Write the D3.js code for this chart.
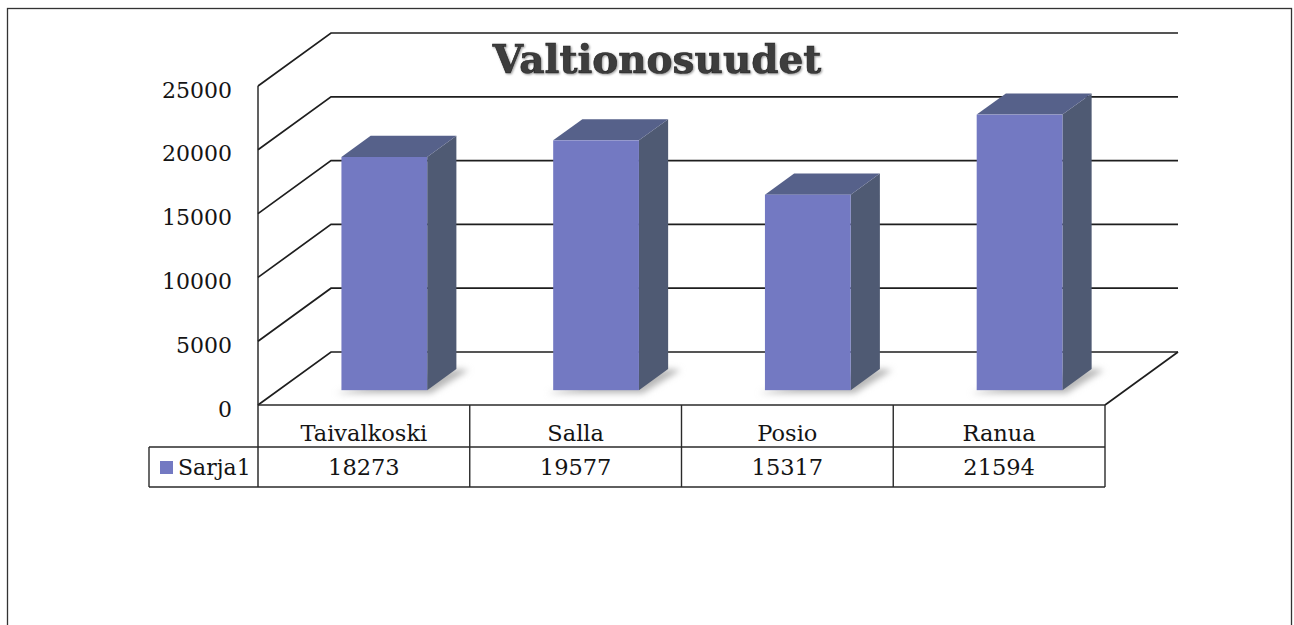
<!DOCTYPE html>
<html lang="fi">
<head>
    <meta charset="UTF-8">
    <title>Valtionosuudet</title>
    <script src="https://cdn.jsdelivr.net/npm/d3@7"></script>
    <style>
        html, body { margin: 0; padding: 0; background: #fff; }
        svg { display: block; }
        text { font-family: 'DejaVu Serif', serif; fill: #141414; }
    </style>
</head>
<body>
<script>
    // data
    const categories = ["Taivalkoski", "Salla", "Posio", "Ranua"];
    const values = [18273, 19577, 15317, 21594];
    const seriesName = "Sarja1";
    const yTicks = [0, 5000, 10000, 15000, 20000, 25000];
    const title = "Valtionosuudet";

    const W = 1294, H = 625;
    const svg = d3.select("body").append("svg").attr("width", W).attr("height", H);

    // 3d box: front plane + depth offset
    const depthX = 73, depthY = 53;
    const x = d3.scaleBand().domain(categories).range([258, 1105]).padding(0);
    const y = d3.scaleLinear().domain([0, 25000]).range([405, 86]);
    const px = (xv, d) => xv + d * depthX;
    const py = (yv, d) => yv - d * depthY;

    const defs = svg.append("defs");
    defs.append("filter").attr("id", "blur").attr("x", "-20%").attr("y", "-50%")
        .attr("width", "140%").attr("height", "200%")
        .append("feGaussianBlur").attr("stdDeviation", 3);
    const tf = defs.append("filter").attr("id", "tshadow");
    tf.append("feGaussianBlur").attr("in", "SourceAlpha").attr("stdDeviation", 1.2).attr("result", "b");
    tf.append("feOffset").attr("dx", 1).attr("dy", 1).attr("result", "o");
    tf.append("feFlood").attr("flood-color", "#999").attr("result", "c");
    tf.append("feComposite").attr("in", "c").attr("in2", "o").attr("operator", "in").attr("result", "s");
    const fm = tf.append("feMerge");
    fm.append("feMergeNode").attr("in", "s");
    fm.append("feMergeNode").attr("in", "SourceGraphic");

    // outer frame
    svg.append("rect").attr("x", 7.5).attr("y", 8.5).attr("width", 1284).attr("height", 640)
        .attr("fill", "none").attr("stroke", "#333").attr("stroke-width", 1.3);

    const gridColor = "#1e1e1e";
    const x0 = x.range()[0], x1 = x.range()[1];

    // back wall gridlines + left wall diagonals
    const grid = svg.append("g").attr("stroke", gridColor).attr("stroke-width", 1.7).attr("fill", "none");
    yTicks.forEach(t => {
        grid.append("path").attr("d", d3.line()([
            [x0, y(t)], [px(x0, 1), py(y(t), 1)], [px(x1, 1), py(y(t), 1)]
        ]));
    });
    // floor right edge
    grid.append("line").attr("x1", x1).attr("y1", y(0)).attr("x2", px(x1, 1)).attr("y2", py(y(0), 1));
    // left axis line
    grid.append("line").attr("x1", x0).attr("y1", y(25000)).attr("x2", x0).attr("y2", 487)
        .attr("stroke-width", 1.4);

    // bars
    const bw = x.bandwidth() * 0.405;
    const dFront = 0.28, dBack = 0.68;
    const bars = svg.append("g").selectAll("g").data(values).join("g");

    bars.each(function (v, i) {
        const g = d3.select(this);
        const xl = x(categories[i]) + (x.bandwidth() - bw) / 2;
        const xr = xl + bw;
        const yb = y(0), yt = y(v);
        const P = (xx, yy, d) => [px(xx, d), py(yy, d)];

        // soft floor shadow
        g.append("path")
            .attr("d", d3.line()([P(xl - 6, yb + 3, dFront), P(xr + 4, yb + 3, dFront),
                P(xr + 14, yb, dBack - 0.02), P(xr, yb, dBack)]) + "Z")
            .attr("fill", "#b8b8b8").attr("filter", "url(#blur)");
        // side
        g.append("path")
            .attr("d", d3.line()([P(xr, yb, dFront), P(xr, yb, dBack), P(xr, yt, dBack), P(xr, yt, dFront)]) + "Z")
            .attr("fill", "#4f5a73");
        // top
        g.append("path")
            .attr("d", d3.line()([P(xl, yt, dFront), P(xr, yt, dFront), P(xr, yt, dBack), P(xl, yt, dBack)]) + "Z")
            .attr("fill", "#56618a");
        // front
        g.append("rect")
            .attr("x", px(xl, dFront)).attr("y", py(yt, dFront))
            .attr("width", bw).attr("height", yb - yt)
            .attr("fill", "#7379c2");
    });

    // y axis labels
    const yAxis = d3.axisLeft(y).tickValues(yTicks).tickSize(0).tickPadding(26).tickFormat(d3.format("d"));
    const ax = svg.append("g").attr("transform", `translate(${x0},4)`).call(yAxis);
    ax.select(".domain").remove();
    ax.selectAll("text").attr("font-family", "'DejaVu Serif', serif").attr("font-size", 22).attr("fill", "#141414");

    // data table
    const tbl = svg.append("g").attr("stroke", "#2a2a2a").attr("stroke-width", 1.4).attr("fill", "none");
    const rowTop = 405, rowMid = 447, rowBot = 487, legX = 149;
    tbl.append("line").attr("x1", x0).attr("x2", x1).attr("y1", rowTop).attr("y2", rowTop);
    tbl.append("line").attr("x1", legX).attr("x2", x1).attr("y1", rowMid).attr("y2", rowMid);
    tbl.append("line").attr("x1", legX).attr("x2", x1).attr("y1", rowBot).attr("y2", rowBot);
    tbl.append("line").attr("x1", legX).attr("x2", legX).attr("y1", rowMid).attr("y2", rowBot);
    categories.forEach(c => {
        tbl.append("line").attr("x1", x(c) + x.bandwidth()).attr("x2", x(c) + x.bandwidth())
            .attr("y1", rowTop).attr("y2", rowBot);
    });

    svg.append("g").selectAll("text").data(categories).join("text")
        .attr("x", d => x(d) + x.bandwidth() / 2).attr("y", 441)
        .attr("text-anchor", "middle").attr("font-size", 22.5)
        .text(d => d);
    svg.append("g").selectAll("text").data(values).join("text")
        .attr("x", (d, i) => x(categories[i]) + x.bandwidth() / 2).attr("y", 475)
        .attr("text-anchor", "middle").attr("font-size", 22.5)
        .text(d => d);

    // legend key
    svg.append("rect").attr("x", 160).attr("y", 461).attr("width", 13).attr("height", 13).attr("fill", "#7379c2");
    svg.append("text").attr("x", 178).attr("y", 475).attr("font-size", 22).text(seriesName);

    // title
    svg.append("text").attr("x", 657).attr("y", 73).attr("text-anchor", "middle")
        .attr("font-size", 39).attr("font-weight", "bold")
        .style("fill", "#3d3d3d").attr("stroke", "#1e1e1e").attr("stroke-width", 0.7)
        .attr("filter", "url(#tshadow)")
        .text(title);
</script>
</body>
</html>
